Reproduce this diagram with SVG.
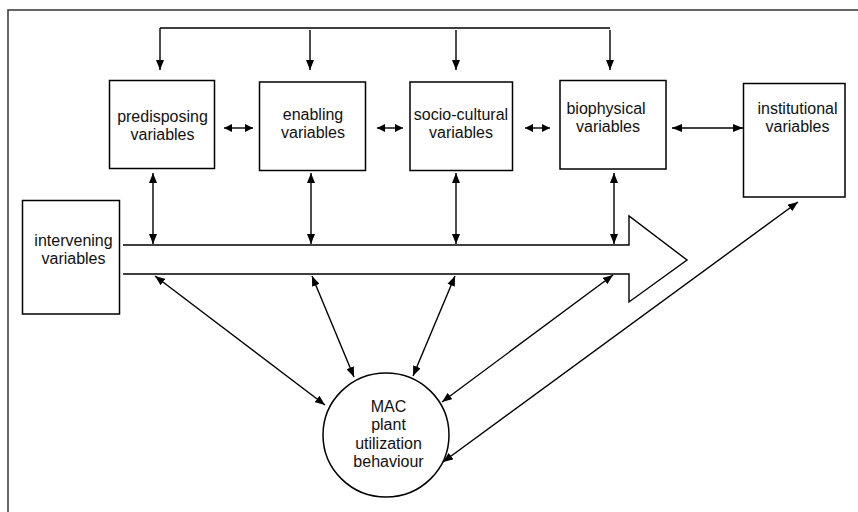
<svg xmlns="http://www.w3.org/2000/svg" width="858" height="512" viewBox="0 0 858 512">
<defs>
<marker id="ah" viewBox="0 0 10 8" refX="10" refY="4" markerWidth="10" markerHeight="8" markerUnits="userSpaceOnUse" orient="auto-start-reverse">
<path d="M0,0 L10,4 L0,8 z" fill="#000"/>
</marker>
<marker id="ahs" viewBox="0 0 8 8" refX="8" refY="4" markerWidth="8" markerHeight="8" markerUnits="userSpaceOnUse" orient="auto-start-reverse">
<path d="M0,0 L8,4 L0,8 z" fill="#000"/>
</marker>
</defs>
<style>
.box{fill:#fff;stroke:#000;stroke-width:1.5}
.t{font-family:"Liberation Sans",Arial,sans-serif;font-size:16px;fill:#111;text-anchor:middle}
.c{fill:none;stroke:#000;stroke-width:1.4}
.a{marker-end:url(#ah)}
.d{marker-start:url(#ah);marker-end:url(#ah)}
.ds{marker-start:url(#ahs);marker-end:url(#ahs)}
</style>
<rect width="858" height="512" fill="#fff"/>
<path d="M8,512 V10 H858" fill="none" stroke="#333" stroke-width="1.5"/>

<g id="connectors">
<path class="c a" d="M160,28 H610 M160,28 V70"/>
<line class="c a" x1="610" y1="30" x2="610" y2="70"/>
<line class="c a" x1="310" y1="30" x2="310" y2="70"/>
<line class="c a" x1="456" y1="30" x2="456" y2="70"/>
<line class="c ds" x1="224" y1="128" x2="253" y2="128"/>
<line class="c ds" x1="377" y1="128" x2="403" y2="128"/>
<line class="c ds" x1="525" y1="128" x2="550" y2="128"/>
<line class="c d" x1="672" y1="128" x2="743" y2="128"/>
<line class="c d" x1="153" y1="173" x2="153" y2="244"/>
<line class="c d" x1="311" y1="173" x2="311" y2="244"/>
<line class="c d" x1="456" y1="173" x2="456" y2="244"/>
<line class="c d" x1="614" y1="173" x2="614" y2="244"/>
<line class="c d" x1="155" y1="276" x2="325" y2="405"/>
<line class="c d" x1="312" y1="276" x2="354" y2="377"/>
<line class="c d" x1="455" y1="276" x2="413" y2="376"/>
<line class="c d" x1="613" y1="275" x2="442" y2="402"/>
<line class="c d" x1="798" y1="202" x2="443" y2="462"/>
</g>

<g id="big-arrow">
<path d="M123,245 H629 V216 L687,260 L629,302 V274 H123" fill="none" stroke="#000" stroke-width="1.4" stroke-linejoin="miter"/>
</g>

<g id="predisposing">
<rect class="box" x="109.5" y="80.5" width="105" height="88"/>
<text class="t" x="162.5" y="121.5">predisposing</text>
<text class="t" x="162.5" y="139.5">variables</text>
</g>
<g id="enabling">
<rect class="box" x="259.5" y="82" width="106" height="88.5"/>
<text class="t" x="313" y="119.5">enabling</text>
<text class="t" x="313" y="137.5">variables</text>
</g>
<g id="socio-cultural">
<rect class="box" x="410" y="82" width="102.5" height="88.5"/>
<text class="t" x="461" y="120">socio-cultural</text>
<text class="t" x="461" y="138">variables</text>
</g>
<g id="biophysical">
<rect class="box" x="560" y="80.5" width="106" height="88.5"/>
<text class="t" x="606" y="113.5">biophysical</text>
<text class="t" x="608" y="131.5">variables</text>
</g>
<g id="institutional">
<rect class="box" x="743.5" y="83.5" width="101.5" height="113.5"/>
<text class="t" x="797.5" y="114">institutional</text>
<text class="t" x="797.5" y="132">variables</text>
</g>
<g id="intervening">
<rect class="box" x="22.5" y="200.5" width="97" height="113.5"/>
<text class="t" x="73.5" y="246">intervening</text>
<text class="t" x="73.5" y="264">variables</text>
</g>
<g id="mac">
<ellipse cx="386" cy="435" rx="63" ry="62" fill="#fff" stroke="#000" stroke-width="1.5"/>
<text class="t" x="388.5" y="411.5">MAC</text>
<text class="t" x="388.5" y="430">plant</text>
<text class="t" x="388.5" y="448.5">utilization</text>
<text class="t" x="388.5" y="466.5">behaviour</text>
</g>
</svg>
